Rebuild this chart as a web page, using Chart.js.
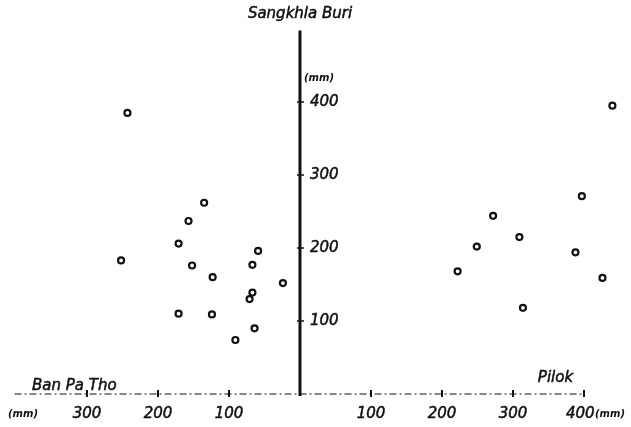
<!DOCTYPE html>
<html>
<head>
<meta charset="utf-8">
<script src="https://cdn.jsdelivr.net/npm/chart.js@4/dist/chart.umd.min.js"></script>
<style>
  html, body { margin: 0; padding: 0; background: #fff; }
  #wrap { width: 631px; height: 427px; }
</style>
</head>
<body>
<div id="wrap"><canvas id="c" width="631" height="427"></canvas></div>
<script>
// Rainfall (mm): Ban Pa Tho (left) or Pilok (right) against Sangkhla Buri (vertical)
const banPaTho     = [243, 135, 157, 171, 252, 59, 152, 67, 123, 24, 67, 71, 171, 124, 64, 91];
const sangkhlaLeft = [385, 262, 237, 206, 183, 196, 176, 177, 160, 152, 139, 130, 110, 109, 90, 74];
const pilok         = [440, 397, 272, 309, 249, 388, 222, 426, 314];
const sangkhlaRight = [395, 271, 244, 215, 202, 194, 168, 159, 118];

const leftTicks  = [300, 200, 100];
const rightTicks = [100, 200, 300, 400];
const yTicks     = [100, 200, 300, 400];

const leftPoints  = banPaTho.map((v, i) => ({ x: -v, y: sangkhlaLeft[i] }));
const rightPoints = pilok.map((v, i) => ({ x: v, y: sangkhlaRight[i] }));

const FONT = 'italic 15px "DejaVu Sans"';
const SMALL = 'italic bold 10px "DejaVu Sans"';

// slightly heavier lettering: fill plus a hairline stroke
function ink(ctx, text, x, y) {
  ctx.fillText(text, x, y);
  ctx.lineWidth = 0.5;
  ctx.strokeText(text, x, y);
}

// Draws the crossed axes, their ticks and labels using the chart's scales
const crossAxes = {
  id: 'crossAxes',
  beforeDatasetsDraw(chart) {
    const ctx = chart.ctx;
    const xs = chart.scales.x, ys = chart.scales.y;
    const x0 = xs.getPixelForValue(0), y0 = ys.getPixelForValue(0);
    ctx.save();
    ctx.strokeStyle = '#111';
    ctx.fillStyle = '#111';

    // horizontal axis: dash-dot line
    ctx.lineWidth = 1.2;
    ctx.setLineDash([7, 3, 2, 3]);
    ctx.beginPath();
    ctx.moveTo(xs.getPixelForValue(-402), y0);
    ctx.lineTo(xs.getPixelForValue(400), y0);
    ctx.stroke();
    ctx.setLineDash([]);

    // horizontal ticks
    ctx.lineWidth = 2;
    leftTicks.forEach(v => {
      const px = xs.getPixelForValue(-v);
      ctx.beginPath(); ctx.moveTo(px, y0 - 4); ctx.lineTo(px, y0 + 3); ctx.stroke();
    });
    rightTicks.forEach(v => {
      const px = xs.getPixelForValue(v);
      ctx.beginPath(); ctx.moveTo(px, y0 - 4); ctx.lineTo(px, y0 + 3); ctx.stroke();
    });

    // vertical axis: heavy solid line
    ctx.lineWidth = 3;
    ctx.beginPath();
    ctx.moveTo(x0, ys.getPixelForValue(0) + 2);
    ctx.lineTo(x0, ys.getPixelForValue(498));
    ctx.stroke();
    ctx.lineWidth = 1.5;
    yTicks.forEach(v => {
      const py = ys.getPixelForValue(v);
      ctx.beginPath(); ctx.moveTo(x0 - 3, py); ctx.lineTo(x0 + 4, py); ctx.stroke();
    });

    // tick labels
    ctx.font = FONT;
    ctx.textBaseline = 'middle';
    ctx.textAlign = 'left';
    yTicks.forEach(v => ink(ctx, String(v), x0 + 10, ys.getPixelForValue(v)));
    ctx.textAlign = 'center';
    const ly = y0 + 20;
    leftTicks.forEach(v => ink(ctx, String(v), xs.getPixelForValue(-v), ly));
    rightTicks.slice(0, 3).forEach(v => ink(ctx, String(v), xs.getPixelForValue(v), ly));
    ctx.textAlign = 'left';
    const p400 = xs.getPixelForValue(400);
    ink(ctx, '400', p400 - 18, ly);
    ctx.font = SMALL;
    ctx.fillText('(mm)', p400 + 11, ly);
    ctx.fillText('(mm)', 8, ly);
    ctx.fillText('(mm)', x0 + 4, ys.getPixelForValue(432));

    // axis titles
    ctx.font = FONT;
    ctx.textAlign = 'center';
    ink(ctx, 'Sangkhla Buri', x0, 14);
    ctx.textAlign = 'left';
    ink(ctx, 'Ban Pa Tho', 32, y0 - 8);
    ink(ctx, 'Pilok', xs.getPixelForValue(335), y0 - 16);
    ctx.restore();
  }
};

const pointStyle = {
  pointRadius: 3,
  pointBorderWidth: 2.2,
  pointBackgroundColor: '#fff',
  pointBorderColor: '#111',
  showLine: false
};

new Chart(document.getElementById('c'), {
  type: 'scatter',
  data: {
    datasets: [
      Object.assign({ label: 'Ban Pa Tho', data: leftPoints }, pointStyle),
      Object.assign({ label: 'Pilok', data: rightPoints }, pointStyle)
    ]
  },
  options: {
    responsive: false,
    animation: false,
    layout: { padding: 0, autoPadding: false },
    plugins: { legend: { display: false }, tooltip: { enabled: false } },
    scales: {
      x: { type: 'linear', display: false, min: -422.5, max: 466.2 },
      y: { type: 'linear', display: false, min: -45.2, max: 539.7 }
    }
  },
  plugins: [crossAxes]
});
</script>
</body>
</html>
